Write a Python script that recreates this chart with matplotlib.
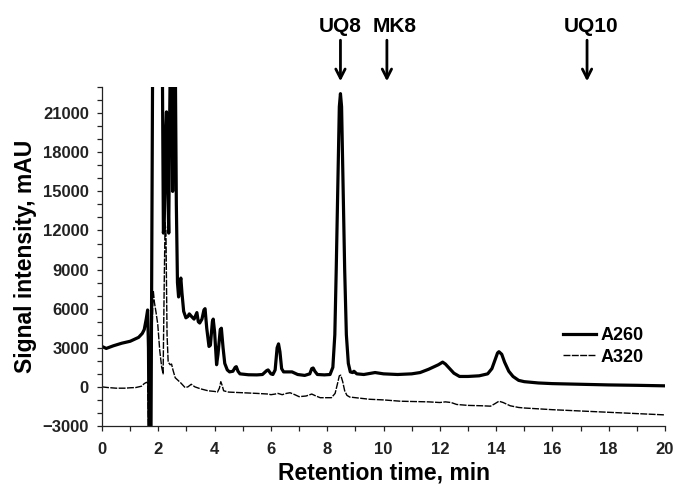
import matplotlib
matplotlib.use("Agg")
import matplotlib.pyplot as plt
from matplotlib.ticker import MultipleLocator

# ── Style ─────────────────────────────────────────────────────────────────────
plt.rcParams.update({
    "font.family":       ["Liberation Sans", "DejaVu Sans"],
    "font.weight":       "bold",
    "font.size":         12,
    "axes.labelweight":  "bold",
    "axes.linewidth":    0.9,
    "axes.edgecolor":    "#222222",
    "xtick.color":       "#222222",
    "ytick.color":       "#222222",
    "figure.facecolor":  "white",
    "savefig.facecolor": "white",
})

# ── Data ──────────────────────────────────────────────────────────────────────
# A260 trace, retention time (min) / signal (mAU); off-scale values sit above the axis
t_a260 = [0.0, 0.15, 0.4, 0.7, 1.0, 1.3, 1.43, 1.5, 1.57, 1.62, 1.65, 1.67, 1.74, 1.80,
          2.14, 2.18, 2.21, 2.26, 2.29, 2.32, 2.37, 2.40, 2.43, 2.49, 2.51, 2.54, 2.60,
          2.64, 2.68, 2.72, 2.77, 2.80, 2.84, 2.90, 2.98, 3.05, 3.10, 3.18, 3.27, 3.33,
          3.37, 3.42, 3.47, 3.55, 3.62, 3.66, 3.72, 3.80, 3.85, 3.92, 3.95, 4.00, 4.07,
          4.12, 4.20, 4.24, 4.30, 4.36, 4.45, 4.53, 4.65, 4.73, 4.77, 4.83, 4.90, 5.20,
          5.50, 5.70, 5.85, 5.90, 6.00, 6.07, 6.15, 6.22, 6.27, 6.32, 6.38, 6.45, 6.60,
          6.75, 6.95, 7.20, 7.38, 7.45, 7.50, 7.56, 7.65, 7.90, 8.10, 8.20, 8.27, 8.32,
          8.38, 8.43, 8.47, 8.51, 8.56, 8.62, 8.68, 8.75, 8.82, 8.90, 8.95, 9.05, 9.30,
          9.70, 10.0, 10.5, 11.0, 11.3, 11.6, 11.8, 11.95, 12.1, 12.2, 12.35, 12.5, 12.7,
          13.0, 13.4, 13.7, 13.85, 13.95, 14.05, 14.1, 14.2, 14.3, 14.45, 14.6, 14.8,
          15.0, 15.5, 16.0, 17.0, 18.0, 19.0, 20.0]
a260 = [3100, 2950, 3150, 3350, 3500, 3800, 4100, 4400, 5200, 5900, 3000, -3500, -3500, 26000,
        26000, 11800, 12500, 19500, 21100, 17000, 11800, 20000, 26000, 26000, 15000, 26000, 26000,
        14000, 8000, 6900, 8000, 8350, 7200, 5800, 5300, 5400, 5600, 5400, 5200, 5500,
        5700, 5000, 4900, 5200, 5900, 6000, 4500, 3100, 3200, 5000, 5200, 4200, 1700,
        2500, 4400, 4500, 3000, 1800, 1300, 1150, 1200, 1500, 1550, 1200, 1000, 930,
        920, 950, 1250, 1300, 1000, 950, 1300, 3000, 3300, 2700, 1400, 1150, 1150,
        1150, 950, 880, 1000, 1400, 1450, 1200, 950, 920, 950, 1500, 4000, 9000,
        16000, 21500, 22500, 21500, 16000, 9000, 4000, 1800, 1150, 1100, 1200, 1000, 950,
        1100, 1000, 950, 1000, 1100, 1350, 1550, 1700, 1900, 1750, 1400, 1050, 800,
        800, 850, 1000, 1400, 2000, 2600, 2700, 2500, 1900, 1200, 800, 500,
        400, 300, 250, 200, 150, 120, 80]

# A320 trace
t_a320 = [0.0, 0.2, 0.5, 0.8, 1.0, 1.2, 1.4, 1.5, 1.58, 1.62, 1.65, 1.72, 1.76, 1.82,
          1.86, 1.92, 1.98, 2.05, 2.12, 2.17, 2.21, 2.24, 2.27, 2.31, 2.35, 2.42, 2.47,
          2.52, 2.60, 2.70, 2.80, 2.95, 3.05, 3.17, 3.30, 3.50, 3.77, 4.00, 4.10, 4.17,
          4.22, 4.27, 4.32, 4.50, 5.00, 5.50, 5.90, 6.00, 6.15, 6.25, 6.40, 6.55, 6.68,
          6.85, 7.00, 7.25, 7.45, 7.60, 7.75, 8.15, 8.28, 8.36, 8.43, 8.48, 8.55, 8.62,
          8.70, 8.80, 9.50, 10.0, 10.6, 11.6, 12.0, 12.2, 12.4, 12.6, 13.0, 13.5, 13.8,
          13.95, 14.1, 14.25, 14.5, 14.8, 15.0, 16.0, 17.0, 18.0, 19.0, 20.0]
a320 = [0, -50, -100, -100, -70, -50, 50, 250, 350, 300, -3500, -3500, 3000, 7400,
        6500, 5700, 4800, 2800, 1500, 1000, 8000, 12600, 12000, 4000, 1900, 1700, 1750,
        1300, 700, 500, 300, -50, 0, 200, 0, -150, -300, -350, -400, -100,
        400, 100, -300, -400, -450, -500, -550, -600, -550, -500, -600, -500, -450,
        -600, -750, -700, -550, -700, -830, -830, -500, 200, 850, 900, 400, -300,
        -650, -780, -950, -1000, -1100, -1150, -1200, -1150, -1200, -1350, -1420, -1450, -1480,
        -1300, -1100, -1200, -1450, -1580, -1620, -1750, -1850, -1950, -2050, -2150]

# Marked compounds: name and retention time (min)
marker_names = ["UQ8", "MK8", "UQ10"]
marker_times = [8.47, 10.12, 17.23]
name_nudge_pt = [0, 5.8, 2.9]   # labels sit slightly right of their arrows

# ── Figure ────────────────────────────────────────────────────────────────────
fig = plt.figure(figsize=(6.77, 4.87), dpi=100)
ax = fig.add_axes([0.1507, 0.1253, 0.8316, 0.6958])

ax.plot(t_a260, a260, color="black", linewidth=2.3, solid_joinstyle="round", label="A260")
ax.plot(t_a320, a320, color="black", linewidth=1.0, linestyle=(0, (5, 1)), label="A320")

ax.set_xlim(0, 20)
ax.set_ylim(-3000, 23000)
ax.xaxis.set_major_locator(MultipleLocator(2))
ax.xaxis.set_minor_locator(MultipleLocator(1))
ax.yaxis.set_major_locator(MultipleLocator(3000))
ax.yaxis.set_minor_locator(MultipleLocator(1000))
ax.tick_params(which="both", direction="out", length=3.5, width=0.9)
ax.tick_params(axis="x", which="major", pad=8)
ax.tick_params(axis="y", which="major", pad=6)

ax.spines["top"].set_visible(False)
ax.spines["right"].set_visible(False)

ax.set_xlabel("Retention time, min", fontsize=16.5, labelpad=3)
ax.set_ylabel("Signal intensity, mAU", fontsize=16.5, labelpad=4)

# Arrows marking where each standard elutes
for name, t, nudge in zip(marker_names, marker_times, name_nudge_pt):
    ax.annotate("", xy=(t, 23450), xytext=(t, 26600),
                arrowprops=dict(arrowstyle="->, head_length=0.55, head_width=0.28",
                                color="black", lw=2.0, shrinkA=0, shrinkB=0),
                annotation_clip=False)
    ax.annotate(name, xy=(t, 27200), xytext=(nudge, 0), textcoords="offset points",
                ha="center", va="baseline", fontsize=15, fontweight="bold",
                annotation_clip=False)

ax.legend(loc="upper left", bbox_to_anchor=(0.819, 0.292), frameon=False,
          borderpad=0, borderaxespad=0, handlelength=1.8, handletextpad=0.25,
          labelspacing=0.25, prop={"weight": "bold", "size": 13})

fig.savefig("out.png", dpi=100)
